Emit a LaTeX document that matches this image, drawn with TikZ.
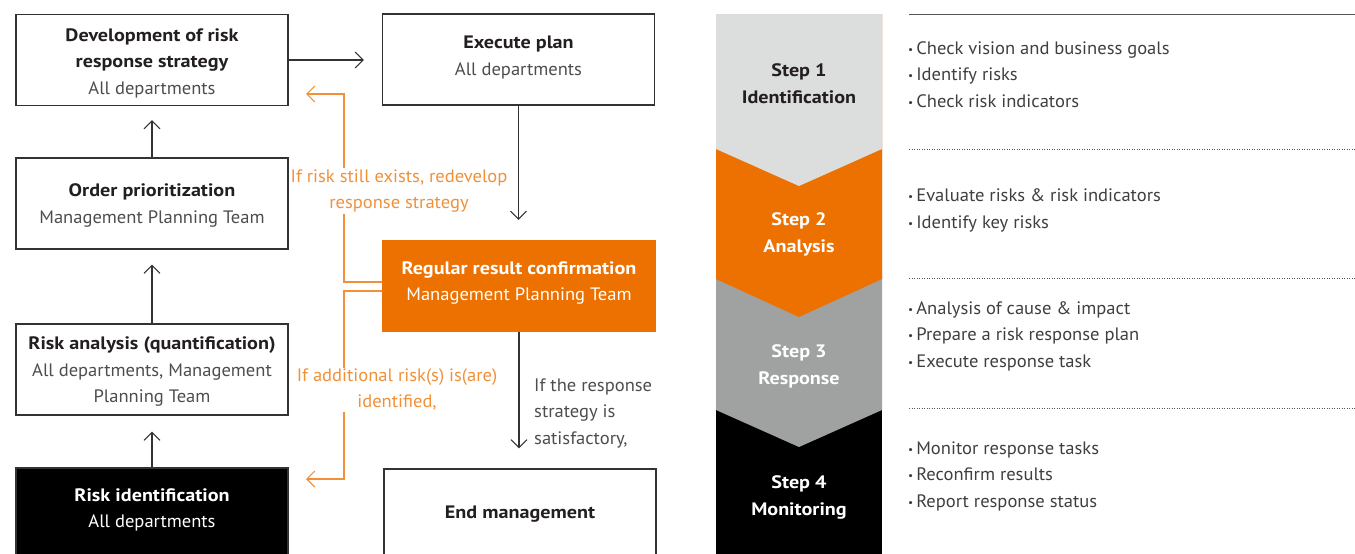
\documentclass[tikz,border=0pt]{standalone}
\usepackage{fontspec}
\setmainfont{PT Sans}[FakeStretch=1.03, BoldFeatures={FakeStretch=1.12}]
\usetikzlibrary{arrows.meta}
\definecolor{boxline}{HTML}{333333}
\definecolor{titletxt}{HTML}{231F20}
\definecolor{subtxt}{HTML}{4D4D4D}
\definecolor{listtxt}{HTML}{3F3F3F}
\definecolor{orfill}{HTML}{EC7100}
\definecolor{ortxt}{HTML}{F0913A}
\definecolor{graylight}{HTML}{DCDDDD}
\definecolor{graymid}{HTML}{A0A1A1}
\definecolor{rulec}{HTML}{555555}
\newcommand{\ttl}[1]{{\color{titletxt}\bfseries #1}}
\newcommand{\wttl}[1]{{\color{white}\bfseries #1}}
\newcommand{\itm}[1]{{\fontsize{11}{11}\selectfont\raisebox{1pt}{•}}\hspace{3pt}#1}
\begin{document}
\begin{tikzpicture}[x=1pt,y=-1pt,
  txt/.style={font=\fontsize{18}{26.5}\selectfont},
  box/.style={draw=boxline, line width=1.1pt, minimum width=272pt, minimum height=91pt, inner sep=0pt},
  boxtext/.style={txt, align=center, text=subtxt, inner sep=0pt},
  flow/.style={draw=boxline, line width=1.1pt, -{Straight Barb[length=8pt,width=16pt,line width=1.1pt]}},
  oflow/.style={draw=ortxt, line width=1.1pt, -{Straight Barb[length=8pt,width=16pt,line width=1.1pt]}},
  olabel/.style={txt, text=ortxt, fill=white, align=center, inner sep=1pt},
  steptxt/.style={font=\fontsize{18}{26.5}\selectfont\bfseries, align=center},
  listnode/.style={txt, text=listtxt, align=left, anchor=west, inner sep=0pt},
  dotrule/.style={draw=rulec, line width=0.9pt, dash pattern=on 0.9pt off 1.6pt}
]
\useasboundingbox (0,0) rectangle (1355,554);

% ---------- left flow boxes ----------
\node[box] (dev) at (152,60) {};
\node[box] (exec) at (518.5,59.5) {};
\node[box] (order) at (152,203.5) {};
\node[box, fill=orfill, draw=orfill] (reg) at (519,286) {};
\node[box] (riska) at (152,369.5) {};
\node[box, fill=black, minimum height=90pt] (riskid) at (152,513) {};
\node[box, minimum height=90pt] (endm) at (520,514) {};

\node[boxtext, yshift=-3pt] (devt) at (dev) {\ttl{Development of risk}\\\ttl{response strategy}\\All departments};
\node[boxtext, yshift=2pt] (exect) at (exec) {\ttl{Execute plan}\\All departments};
\node[boxtext, yshift=-2pt] (ordert) at (order) {\ttl{Order prioritization}\\Management Planning Team};
\node[boxtext, text=white, yshift=3pt] (regt) at (reg) {\wttl{Regular result confirmation}\\Management Planning Team};
\node[boxtext, yshift=-2pt] (riskat) at (riska) {\ttl{Risk analysis (quantification)}\\All departments, Management\\Planning Team};
\node[boxtext, text=white, yshift=3pt] (riskidt) at (riskid) {\wttl{Risk identification}\\All departments};
\node[boxtext] (endmt) at (endm) {\ttl{End management}};

\draw[flow, shorten >=18pt] (dev.east) -- (dev.east -| exec.west);
\draw[flow, shorten >=14pt] (order) -- (dev);
\draw[flow, shorten >=15pt] (riska) -- (order);
\draw[flow, shorten >=16pt] (riskid) -- (riska);
\draw[flow, shorten >=20pt] (exec) -- (exec |- reg.north);
\draw[flow, shorten >=20pt] (reg) -- (reg |- endm.north);

% orange feedback connectors
\coordinate (u1) at (344,282);
\coordinate (u2) at (344,94);
\coordinate (u3) at (306,94);
\draw[oflow] (reg.west |- u1) -- (u1) -- (u2) -- (u3);
\coordinate (d1) at (344,291);
\coordinate (d2) at (344,479);
\coordinate (d3) at (306,479);
\draw[oflow] (reg.west |- d1) -- (d1) -- (d2) -- (d3);
\node[olabel] (lab1) at (399,191) {If risk still exists, redevelop\\response strategy};
\node[olabel] (lab2) at (397,389.5) {If additional risk(s) is(are)\\identified,};
\node[txt, text=subtxt, align=left, anchor=west, inner sep=0pt] (lab3) at (534,413) {If the response\\strategy is\\satisfactory,};

% ---------- step column ----------
\fill[black] (716,14) rectangle (882,560);
\fill[graymid] (716,14) -- (882,14) -- (882,410) -- (799,447) -- (716,410) -- cycle;
\fill[orfill] (716,14) -- (882,14) -- (882,279) -- (799,317) -- (716,279) -- cycle;
\fill[graylight] (716,14) -- (882,14) -- (882,149) -- (799,186) -- (716,149) -- cycle;
\node[steptxt, text=titletxt] (s1) at (799,83.5) {Step 1\\Identification};
\node[steptxt, text=white] (s2) at (799,234.5) {Step 2\\Analysis};
\node[steptxt, text=white] (s3) at (799,366.5) {Step 3\\Response};
\node[steptxt, text=white] (s4) at (799,497.5) {Step 4\\Monitoring};

% ---------- right lists ----------
\coordinate (r0) at (909,14.5);
\coordinate (r0e) at (1355,14.5);
\draw[draw=rulec, line width=1.3pt] (r0) -- (r0e);
\coordinate (r1) at (909,149);
\coordinate (r1e) at (1355,149);
\draw[dotrule] (r1) -- (r1e);
\coordinate (r2) at (909,278);
\coordinate (r2e) at (1355,278);
\draw[dotrule] (r2) -- (r2e);
\coordinate (r3) at (909,408);
\coordinate (r3e) at (1355,408);
\draw[dotrule] (r3) -- (r3e);

\node[listnode] (l1) at (908,74.5) {\itm{Check vision and business goals}\\\itm{Identify risks}\\\itm{Check risk indicators}};
\node[listnode] (l2) at (908,210.5) {\itm{Evaluate risks \& risk indicators}\\\itm{Identify key risks}};
\node[listnode] (l3) at (908,336) {\itm{Analysis of cause \& impact}\\\itm{Prepare a risk response plan}\\\itm{Execute response task}};
\node[listnode] (l4) at (908,476) {\itm{Monitor response tasks}\\\itm{Reconfirm results}\\\itm{Report response status}};
\end{tikzpicture}
\end{document}
